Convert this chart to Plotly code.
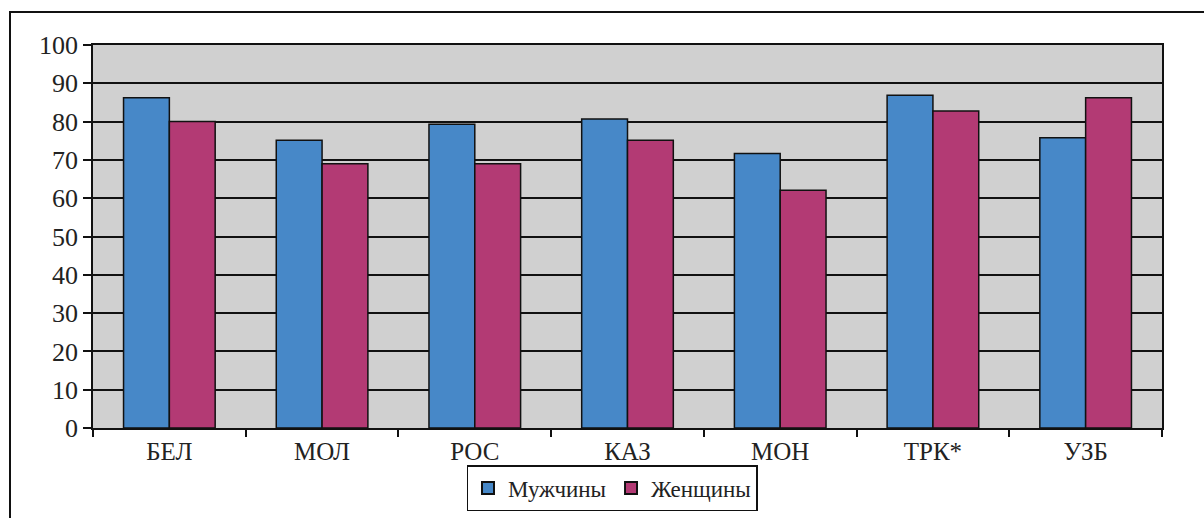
import plotly.graph_objects as go

categories = ["БЕЛ", "МОЛ", "РОС", "КАЗ", "МОН", "ТРК*", "УЗБ"]
men = [86.2, 75.1, 79.3, 80.7, 71.7, 86.9, 75.8]
women = [80.0, 69.0, 69.0, 75.1, 62.1, 82.8, 86.2]
y_ticks = [0, 10, 20, 30, 40, 50, 60, 70, 80, 90, 100]

FONT = "'Liberation Serif', 'DejaVu Serif', serif"

fig = go.Figure()
fig.add_trace(go.Bar(name="Мужчины", x=categories, y=men,
                     marker=dict(color="#4788c8", line=dict(color="#111111", width=1.5))))
fig.add_trace(go.Bar(name="Женщины", x=categories, y=women,
                     marker=dict(color="#b33a74", line=dict(color="#111111", width=1.5))))

L, R, T, B = 93, 42, 45, 90
W, H = 1204, 518
pw, ph = W - L - R, H - T - B

fig.update_layout(
    width=W, height=H,
    margin=dict(l=L, r=R, t=T, b=B, pad=0, autoexpand=False),
    paper_bgcolor="white",
    plot_bgcolor="#d0d0d0",
    barmode="group",
    bargap=0.4,
    bargroupgap=0,
    font=dict(family=FONT, size=24, color="#222222"),
    showlegend=True,
    legend=dict(orientation="h", x=(612 - L) / pw, xanchor="center",
                y=(T + ph - 511) / ph, yanchor="bottom",
                bordercolor="#111111", borderwidth=1.5, bgcolor="white",
                font=dict(family=FONT, size=23, color="#222222"),
                itemsizing="constant", traceorder="normal", itemwidth=30,
                tracegroupgap=0),
    xaxis=dict(type="category", showline=True, linecolor="#111111", linewidth=1.5,
               mirror=True, ticks="outside", tickson="boundaries", ticklen=7,
               tickcolor="#111111", tickwidth=1.5, showgrid=False, automargin=False,
               tickfont=dict(family=FONT, size=25, color="#222222")),
    yaxis=dict(range=[0, 100], tickvals=y_ticks, showline=True, linecolor="#111111",
               linewidth=1.5, mirror=True, ticks="outside", ticklen=8,
               tickcolor="#111111", tickwidth=1.5, showgrid=True, automargin=False,
               gridcolor="#111111", gridwidth=1.5, zeroline=False,
               tickfont=dict(family=FONT, size=26, color="#222222")),
)

# outer frame
fig.add_shape(type="rect", xref="paper", yref="paper",
              x0=(10 - L) / pw, x1=1 + (R + 10) / pw,
              y0=-(B + 10) / ph, y1=1 + (T - 12) / ph,
              line=dict(color="#111111", width=2), fillcolor="rgba(0,0,0,0)", layer="below")

fig.write_html("out.html", config={"displayModeBar": False},
               post_script="document.body.style.margin='0';document.body.style.overflow='hidden';")
